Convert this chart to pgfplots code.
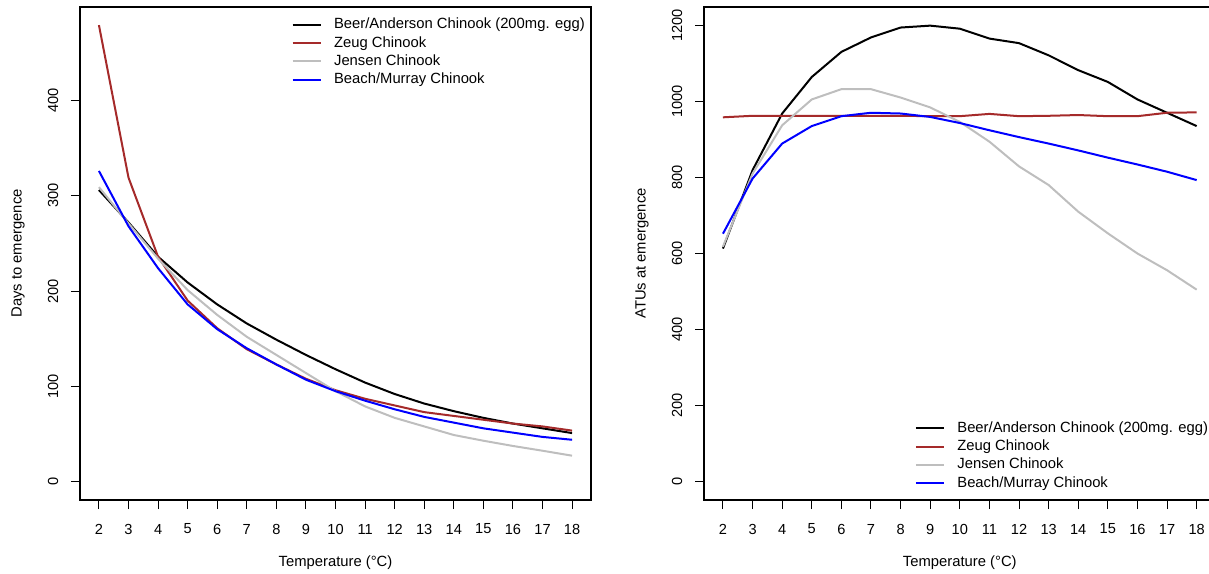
\documentclass[border=0pt]{standalone}
\usepackage{fontspec}
\setmainfont{Liberation Sans}
\usepackage{pgfplots}
\usepackage{pgfplotstable}
\pgfplotsset{compat=1.18}
\definecolor{zeug}{HTML}{A52A2A}
\definecolor{jensen}{HTML}{BEBEBE}

% days to emergence
\pgfplotstableread{
T  ba   zeug  jensen bm
2  306  479   309    326
3  272  319   271    268
4  236  236   234    224
5  209  190   201    186
6  186  161   175    160
7  166  139   152    140
8  149  123   133    123
9  133  108   114    107
10 118  96    95     95
11 104  87    79     85
12 92   80    67     76
13 82   73    58     68
14 74   69    49     62
15 67   65    43     56
16 61   61    37.5   51.5
17 56   58    32.5   47
18 51   53.6  27.3   44
}\days

% ATUs at emergence
\pgfplotstableread{
T  ba    zeug  jensen bm
2  613   958   618    652
3  819   962   810    797
4  968   962   937    889
5  1064  962   1005   935
6  1130  962   1032   961
7  1168  962   1032   970
8  1194  962   1010   968
9  1199  961   984    959
10 1191  961   946    943
11 1165  967   894    924
12 1153  961   829    906
13 1121  962   780    889
14 1082  964   710    871
15 1051  961   653    852
16 1005  961   600    834
17 970   970   556    815
18 935   971   505    793
}\atus

\pgfplotsset{
  rpanel/.style={
    scale only axis, width=255.5pt, height=246.5pt,
    xmin=1.36, xmax=18.64, xtick={2,...,18},
    tick align=outside, xtick pos=bottom, ytick pos=left,
    major tick length=4.5pt,
    axis line style={line width=1pt},
    every tick/.style={black, line width=0.5pt},
    tick label style={font=\fontsize{7.3}{8}\selectfont},
    /pgf/number format/assume math mode=true,
    /pgf/number format/1000 sep={},
    xticklabel style={anchor=center, yshift=-10pt},
    yticklabel style={xshift=-9pt, rotate=90, anchor=center},
    every axis x label/.style={at={(axis description cs:0.5,0)}, anchor=center,
      yshift=-31.5pt, font=\fontsize{7.4}{9}\selectfont},
    every axis y label/.style={at={(axis description cs:0,0.5)}, xshift=-31pt,
      rotate=90, anchor=center, font=\fontsize{7.4}{9}\selectfont},
    legend cell align=left,
    legend style={draw=none, fill=none, inner sep=0pt, outer sep=0pt,
      font=\fontsize{7.4}{9}\selectfont, row sep=2.25pt, column sep=6.2pt,
      nodes={inner sep=0pt},
      /tikz/every even column/.append style={text height=5.4pt, text depth=1.6pt}},
    legend image code/.code={\draw[#1] (0pt,0pt) -- (14pt,0pt);},
    every axis plot/.append style={line width=1pt},
  }
}

\begin{document}
\begin{tikzpicture}
\begin{axis}[rpanel, at={(40pt,-3.5pt)}, anchor=north west,
  ymin=-19.2, ymax=498, ytick={0,100,...,400},
  xlabel={Temperature (°C)}, ylabel={Days to emergence},
  legend style={at={(0.4143,0.9777)}, anchor=north west}]
\addplot[black] table[x=T,y=ba] {\days};
\addlegendentry{Beer/Anderson Chinook (200mg. egg)}
\addplot[zeug] table[x=T,y=zeug] {\days};
\addlegendentry{Zeug Chinook}
\addplot[jensen] table[x=T,y=jensen] {\days};
\addlegendentry{Jensen Chinook}
\addplot[blue] table[x=T,y=bm] {\days};
\addlegendentry{Beach/Murray Chinook}
\end{axis}

\begin{axis}[rpanel, at={(352pt,-3.5pt)}, anchor=north west, width=255.8pt,
  ymin=-48, ymax=1248, ytick={0,200,...,1200},
  xlabel={Temperature (°C)}, ylabel={ATUs at emergence},
  legend style={at={(0.4124,0.1596)}, anchor=north west}]
\addplot[black] table[x=T,y=ba] {\atus};
\addlegendentry{Beer/Anderson Chinook (200mg. egg)}
\addplot[zeug] table[x=T,y=zeug] {\atus};
\addlegendentry{Zeug Chinook}
\addplot[jensen] table[x=T,y=jensen] {\atus};
\addlegendentry{Jensen Chinook}
\addplot[blue] table[x=T,y=bm] {\atus};
\addlegendentry{Beach/Murray Chinook}
\end{axis}
\pgfresetboundingbox
\useasboundingbox (0pt,0pt) rectangle (604.5pt,-286.5pt);
\end{tikzpicture}
\end{document}
